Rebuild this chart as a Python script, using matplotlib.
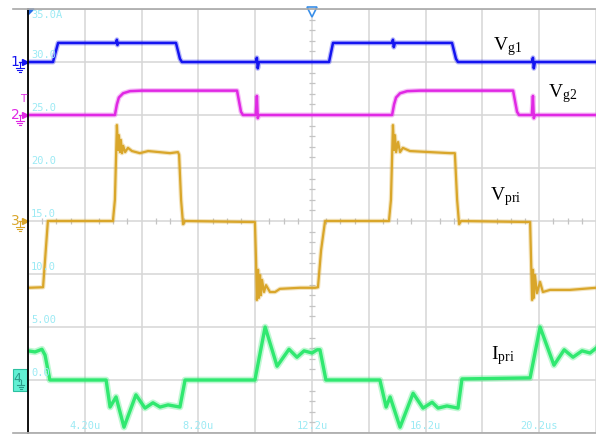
import matplotlib.pyplot as plt
from matplotlib.lines import Line2D
from matplotlib.patches import Rectangle, Polygon

plt.rcParams['mathtext.fontset'] = 'custom'
plt.rcParams['mathtext.rm'] = 'Liberation Serif'

# time in us, levels in divisions above each channel's ground marker
vg1_t = [2.20, 3.08, 3.26, 5.30, 5.33, 5.35, 5.38, 7.41, 7.55, 7.62, 10.22, 10.26, 10.29,
         10.33, 12.80, 12.94, 15.02, 15.05, 15.08, 15.12, 17.13, 17.27, 17.34, 19.94, 19.98,
         20.01, 20.05, 22.20]
vg1_v = [0.00, 0.00, 0.36, 0.36, 0.42, 0.32, 0.36, 0.36, 0.06, 0.00, 0.00, 0.08, -0.12,
         0.00, 0.00, 0.36, 0.36, 0.42, 0.28, 0.36, 0.36, 0.06, 0.00, 0.00, 0.08,
         -0.12, 0.00, 0.00]

vg2_t = [2.20, 5.26, 5.33, 5.40, 5.55, 5.79, 6.20, 9.56, 9.70, 9.77, 10.22, 10.26, 10.29,
         10.33, 15.02, 15.09, 15.16, 15.30, 15.55, 16.00, 19.28, 19.42, 19.49, 19.94, 19.98,
         20.01, 20.05, 22.20]
vg2_v = [0.00, 0.00, 0.20, 0.33, 0.41, 0.45, 0.46, 0.46, 0.06, 0.00, 0.00, 0.36, -0.06,
         0.00, 0.00, 0.20, 0.33, 0.41, 0.45, 0.46, 0.46, 0.06, 0.00, 0.00, 0.36,
         -0.06, 0.00, 0.00]

vpri_t = [2.20, 2.73, 2.80, 2.90, 5.19, 5.26, 5.33, 5.37, 5.40, 5.44, 5.47, 5.51, 5.55,
          5.62, 5.72, 5.86, 6.14, 6.43, 7.20, 7.48, 7.52, 7.59, 7.66, 7.73, 10.19, 10.23,
          10.26, 10.30, 10.33, 10.37, 10.40, 10.44, 10.51, 10.58, 10.72, 10.90, 11.07, 11.78,
          12.31, 12.41, 12.52, 12.66, 14.91, 14.98, 15.05, 15.09, 15.12, 15.16, 15.23, 15.30,
          15.40, 15.65, 16.35, 17.06, 17.23, 17.31, 17.38, 17.45, 19.88, 19.95, 19.98, 20.01,
          20.05, 20.12, 20.23, 20.33, 20.58, 21.28, 22.20]
vpri_v = [-1.26, -1.25, -0.74, 0.00, 0.00, 0.40, 1.81, 1.34, 1.62, 1.30, 1.53, 1.28, 1.42,
          1.30, 1.38, 1.32, 1.28, 1.32, 1.28, 1.30, 1.25, 0.40, -0.06, 0.00, -0.02, -0.74,
          -1.49, -0.92, -1.45, -1.02, -1.40, -1.11, -1.34, -1.21, -1.34, -1.34, -1.28, -1.26,
          -1.26, -1.25, -0.55, 0.00, 0.00, 0.40, 1.81, 1.34, 1.62, 1.30, 1.49, 1.30,
          1.38, 1.32, 1.30, 1.28, 1.28, 0.40, -0.06, 0.00, -0.02, -1.49, -0.92, -1.45,
          -1.02, -1.36, -1.15, -1.34, -1.30, -1.30, -1.26]

ipri_t = [2.20, 2.45, 2.69, 2.80, 2.97, 4.95, 5.09, 5.30, 5.58, 6.00, 6.32, 6.60, 6.85,
          7.13, 7.55, 7.73, 10.19, 10.55, 10.97, 11.39, 11.67, 11.92, 12.20, 12.38, 12.48,
          12.69, 14.59, 14.81, 14.95, 15.30, 15.76, 16.11, 16.43, 16.64, 16.95, 17.34, 17.48,
          19.88, 20.23, 20.72, 21.08, 21.39, 21.71, 21.99, 22.20]
ipri_v = [0.55, 0.53, 0.58, 0.47, 0.00, 0.00, -0.51, -0.32, -0.89, -0.28, -0.53, -0.43, -0.51,
          -0.47, -0.51, 0.00, 0.00, 1.00, 0.26, 0.58, 0.43, 0.55, 0.51, 0.57, 0.57,
          0.00, 0.00, -0.51, -0.32, -0.89, -0.25, -0.53, -0.42, -0.53, -0.49, -0.53, 0.02,
          0.04, 1.00, 0.28, 0.57, 0.43, 0.55, 0.51, 0.60]

channels = [
    # name, time, level, ground (div), colour, width, label position (us, div)
    ('V_{g1}', vg1_t, vg1_v, 3, '#1414f0', 1.8, (19.07, 3.30)),
    ('V_{g2}', vg2_t, vg2_v, 2, '#e028e4', 1.8, (21.04, 2.40)),
    ('V_{pri}', vpri_t, vpri_v, 0, '#d9a62a', 1.6, (19.00, 0.47)),
    ('I_{pri}', ipri_t, ipri_v, -3, '#30e870', 2.4, (18.93, -2.53)),
]

grid_t = [2.2, 4.2, 6.2, 8.2, 10.2, 12.2, 14.2, 16.2, 18.2, 20.2, 22.2]
grid_div = [-4, -3, -2, -1, 0, 1, 2, 3, 4]
time_labels = ['4.20u', '8.20u', '12.2u', '16.2u', '20.2us']
time_label_pos = [4.2, 8.2, 12.2, 16.2, 20.2]
scale_labels = ['30.0', '25.0', '20.0', '15.0', '10.0', '5.00', '0.0']
scale_label_div = [3, 2, 1, 0, -1, -2, -3]

CYAN = '#9ceaf4'
GRID = '#d6d6d6'


def px_t(x):
    # screen column -> time axis
    return 2.2 + (x - 28) / 28.4


def ground_mark(ax, y, color, num):
    ax.text(px_t(15), y, str(num), color=color, fontsize=10, ha='center', va='center',
            family='DejaVu Sans', clip_on=False)
    ax.plot([px_t(19), px_t(25)], [y, y], color=color, lw=0.9, clip_on=False)
    ax.plot(px_t(25), y, marker='>', ms=4.5, color=color, clip_on=False)
    ax.plot([px_t(20), px_t(20)], [y, y - 6 / 53], color=color, lw=0.8, clip_on=False)
    for k, half in enumerate([4, 2.5, 1]):
        yy = y - (6 + 2 * k) / 53
        ax.plot([px_t(20 - half), px_t(20 + half)], [yy, yy], color=color, lw=0.8,
                clip_on=False)


fig = plt.figure(figsize=(5.96, 4.34), dpi=100)
ax = fig.add_axes([28 / 596, 1 / 434, 568 / 596, 424 / 434])
ax.set_xlim(2.2, 22.2)
ax.set_ylim(-4, 4)

ax.set_xticks(grid_t)
ax.set_yticks(grid_div)
ax.tick_params(length=0, labelbottom=False, labelleft=False)
ax.grid(True, color=GRID, lw=1.1)
ax.set_axisbelow(True)
for side in ['top', 'bottom']:
    ax.spines[side].set_color('#a8a8a8')
    ax.spines[side].set_linewidth(1.2)
ax.spines['right'].set_visible(False)
ax.spines['left'].set_color('black')
ax.spines['left'].set_linewidth(1.3)

# top and bottom borders run a little past the left edge
for yf in [1 - 9 / 434, 1 / 434]:
    fig.add_artist(Line2D([13 / 596, 28 / 596], [yf, yf], color='#a8a8a8', lw=1.2))

# minor ticks along the centre cross
minor_t = [2.2 + 0.5 * k for k in range(41) if k % 4]
ax.plot(minor_t, [0] * len(minor_t), ls='none', marker='|', ms=4, color='#c4c4c4', mew=0.9)
minor_d = [-4 + 0.2 * k for k in range(41) if k % 5]
ax.plot([12.2] * len(minor_d), minor_d, ls='none', marker='_', ms=5, color='#c4c4c4', mew=0.9)

for name, t, v, g, color, lw, (lx, ly) in channels:
    y = [g + val for val in v]
    ax.plot(t, y, color=color, lw=lw * 2, alpha=0.3, solid_joinstyle='round')
    ax.plot(t, y, color=color, lw=lw, solid_joinstyle='round')
    ax.text(lx, ly, '$\\mathrm{' + name + '}$', fontsize=14, ha='center', va='center',
            color='black')

# scale readout of the selected channel
ax.text(px_t(31), 3.89, '35.0A', color=CYAN, fontsize=7.5, family='DejaVu Sans Mono',
        va='center', ha='left')
for lab, d in zip(scale_labels, scale_label_div):
    ax.text(px_t(31), d + 0.03, lab, color=CYAN, fontsize=7.5, family='DejaVu Sans Mono',
            va='bottom', ha='left')
for lab, t in zip(time_labels, time_label_pos):
    ax.text(t, -4 + 0.14, lab, color=CYAN, fontsize=7.5, family='DejaVu Sans Mono',
            va='center', ha='center')

# channel ground markers
ground_mark(ax, 3, '#1414f0', 1)
ground_mark(ax, 2, '#e028e4', 2)
ground_mark(ax, 0, '#d9a62a', 3)
ax.text(px_t(23), 2 + 16 / 53, 'T', color='#e028e4', fontsize=7.5, ha='center', va='center',
        family='DejaVu Sans', clip_on=False)
ax.add_patch(Rectangle((px_t(13), -3 - 11 / 53), px_t(27) - px_t(13), 22 / 53,
                       facecolor='#62f0d4', edgecolor='#2cc0a0', lw=0.8, clip_on=False))
ax.text(px_t(17), -3 + 2 / 53, '4', color='#2a9a88', fontsize=9, ha='center', va='center',
        family='DejaVu Sans', clip_on=False)
ax.plot([px_t(21), px_t(21)], [-3, -3 - 5 / 53], color='#2a9a88', lw=0.8, clip_on=False)
for k, half in enumerate([3.5, 2, 0.8]):
    yy = -3 - (5 + 2 * k) / 53
    ax.plot([px_t(21 - half), px_t(21 + half)], [yy, yy], color='#2a9a88', lw=0.8,
            clip_on=False)

# trigger position and corner flag
ax.plot(12.2, 4 - 3 / 53, marker='v', ms=7, mfc='white', mec='#3a8fe8', mew=1.2,
        clip_on=False)
ax.add_patch(Polygon([(2.2, 4), (px_t(34), 4), (2.2, 4 - 6 / 53)], closed=True,
                     color='#2a6ee8', clip_on=False))

fig.savefig('out.png', dpi=100)
